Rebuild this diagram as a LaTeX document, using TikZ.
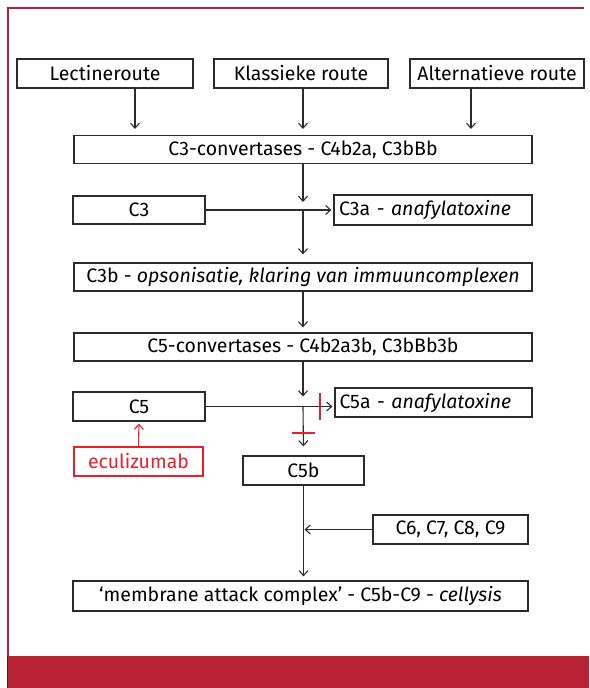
\documentclass[tikz,border=0pt]{standalone}
\usepackage{fontspec}
\setmainfont{Fira Sans}
\usetikzlibrary{arrows.meta}
\definecolor{framered}{HTML}{B92234}
\definecolor{ecured}{HTML}{E8202A}
\definecolor{ink}{HTML}{2B2B2B}
\begin{document}
\begin{tikzpicture}[x=1pt,y=-1pt,
  box/.style={draw=ink,line width=1.2pt,rectangle,inner sep=0pt,minimum height=28pt,
    font=\fontsize{19.5}{21}\selectfont,text=black},
  leftbox/.style={box,text width=188pt,align=left},
  arr/.style={draw=ink,line width=1.1pt,-{Straight Barb[length=5pt,width=9pt]}},
  redarr/.style={draw=ecured,line width=1.1pt,-{Straight Barb[length=5pt,width=9pt]}},
  redbar/.style={draw=ecured,line width=1.1pt},
]
\useasboundingbox (0,0) rectangle (589,688);
% frame
\fill[framered] (7,656) rectangle (589,688);
\draw[framered,line width=2pt] (8,656) -- (8,8) -- (584,8);
\draw[ink,line width=0.8pt] (7,656) -- (7,688);

% nodes
\node[box,minimum width=176pt,minimum height=29pt] (lect) at (105,73.5) {Lectineroute};
\node[box,minimum width=174pt,minimum height=29pt] (klas) at (301,73.5) {Klassieke route};
\node[box,minimum width=174pt,minimum height=29pt] (alt)  at (497,73.5) {Alternatieve route};
\node[box,minimum width=458pt] (conv) at (303,149.5) {C3-convertases - C4b2a, C3bBb};
\node[box,minimum width=132pt] (c3) at (139,210) {C3};
\node[leftbox,minimum width=198pt,minimum height=30pt] (c3a) at (433,210) {C3a - \textit{anafylatoxine}};
\node[box,minimum width=458pt] (c3b) at (303,277) {C3b - \textit{opsonisatie, klaring van immuuncomplexen}};
\node[box,minimum width=458pt] (c5conv) at (303,347) {C5-convertases - C4b2a3b, C3bBb3b};
\node[box,minimum width=132pt,minimum height=29pt] (c5) at (139,406.5) {C5};
\node[leftbox,minimum width=197pt,minimum height=29pt] (c5a) at (433.5,402.5) {C5a - \textit{anafylatoxine}};
\node[box,draw=ecured,text=ecured,minimum width=129pt,minimum height=29pt] (ecu) at (138.5,461.5) {eculizumab};
\node[box,minimum width=121pt,minimum height=29pt] (c5b) at (303.5,470.5) {C5b};
\node[box,minimum width=155pt,minimum height=29pt] (c6) at (450.5,529.5) {C6, C7, C8, C9};
\node[box,minimum width=455pt,minimum height=30pt] (mac) at (300.5,596) {‘membrane attack complex’ - C5b-C9 - \textit{cellysis}};

% coordinates
\coordinate (xl) at (135,0);
\coordinate (xk) at (303,0);
\coordinate (xa) at (471,0);
\coordinate (j3) at (c3.east -| conv.south);
\coordinate (j5) at (c5.east -| conv.south);
\coordinate (k5) at (c6.west -| c5b.south);

% connectors
\draw[arr,shorten >=6pt] (lect.south -| xl) -- (conv.north -| xl);
\draw[arr,shorten >=6pt] (klas.south -| xk) -- (conv.north -| xk);
\draw[arr,shorten >=6pt] (alt.south -| xa) -- (conv.north -| xa);
\draw[arr,shorten >=8pt] (conv.south) -- (j3);
\draw[arr,shorten >=2pt] (c3.east) -- (c3.east -| c3a.west);
\draw[arr,shorten >=8pt] (j3) -- (c3b.north);
\draw[arr,shorten >=5pt] (c3b.south) -- (c5conv.north);
\draw[arr,shorten >=10pt] (c5conv.south) -- (j5);
\draw[arr,shorten >=2pt] (c5.east) -- (c5.east -| c5a.west);
\draw[arr,shorten >=9pt] (j5) -- (c5b.north);
\draw[redarr,shorten >=2pt] (ecu.north) -- (c5.south);
\draw[arr,shorten >=4pt] (c5b.south) -- (c5b.south |- mac.north);
\draw[arr,shorten >=1pt] (c6.west) -- (k5);

% inhibition bars
\draw[redbar] (320,393) -- (320,420);
\draw[redbar] (292,433) -- (315,433);
\end{tikzpicture}
\end{document}
